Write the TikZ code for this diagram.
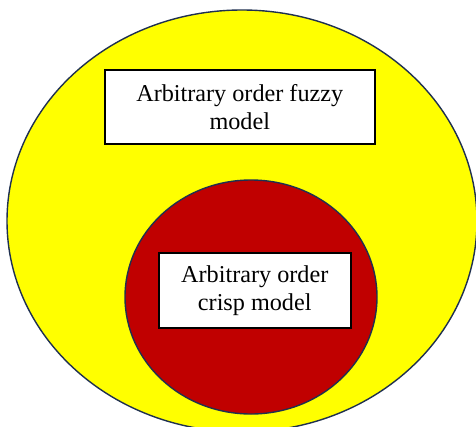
\documentclass[tikz,border=0pt]{standalone}
\usepackage{fontspec}
\setmainfont{Liberation Serif}
\definecolor{outerfill}{HTML}{FFFF00}
\definecolor{innerfill}{HTML}{C00000}
\definecolor{rim}{HTML}{1F3050}
\begin{document}
\begin{tikzpicture}[x=1pt,y=-1pt,
  region/.style={draw=rim,line width=1.4pt},
  labelbox/.style={draw=black,fill=white,line width=1.5pt,align=center,
    font=\fontsize{24.2}{28}\selectfont,inner sep=0pt,anchor=north west}]
\useasboundingbox (0,0) rectangle (476,426);
\clip (0,0) rectangle (476,426);
\fill[white] (0,0) rectangle (476,426);
\draw[region,fill=outerfill] (242,221) ellipse [x radius=235, y radius=211];
\draw[region,fill=innerfill] (251,297) ellipse [x radius=126, y radius=117];
\node[labelbox,minimum width=270pt,minimum height=74pt] (fuzzy) at (104,69) {Arbitrary order fuzzy\\model};
\node[labelbox,minimum width=192pt,minimum height=75pt] (crisp) at (158,252) {Arbitrary order\\crisp model};
\end{tikzpicture}
\end{document}
